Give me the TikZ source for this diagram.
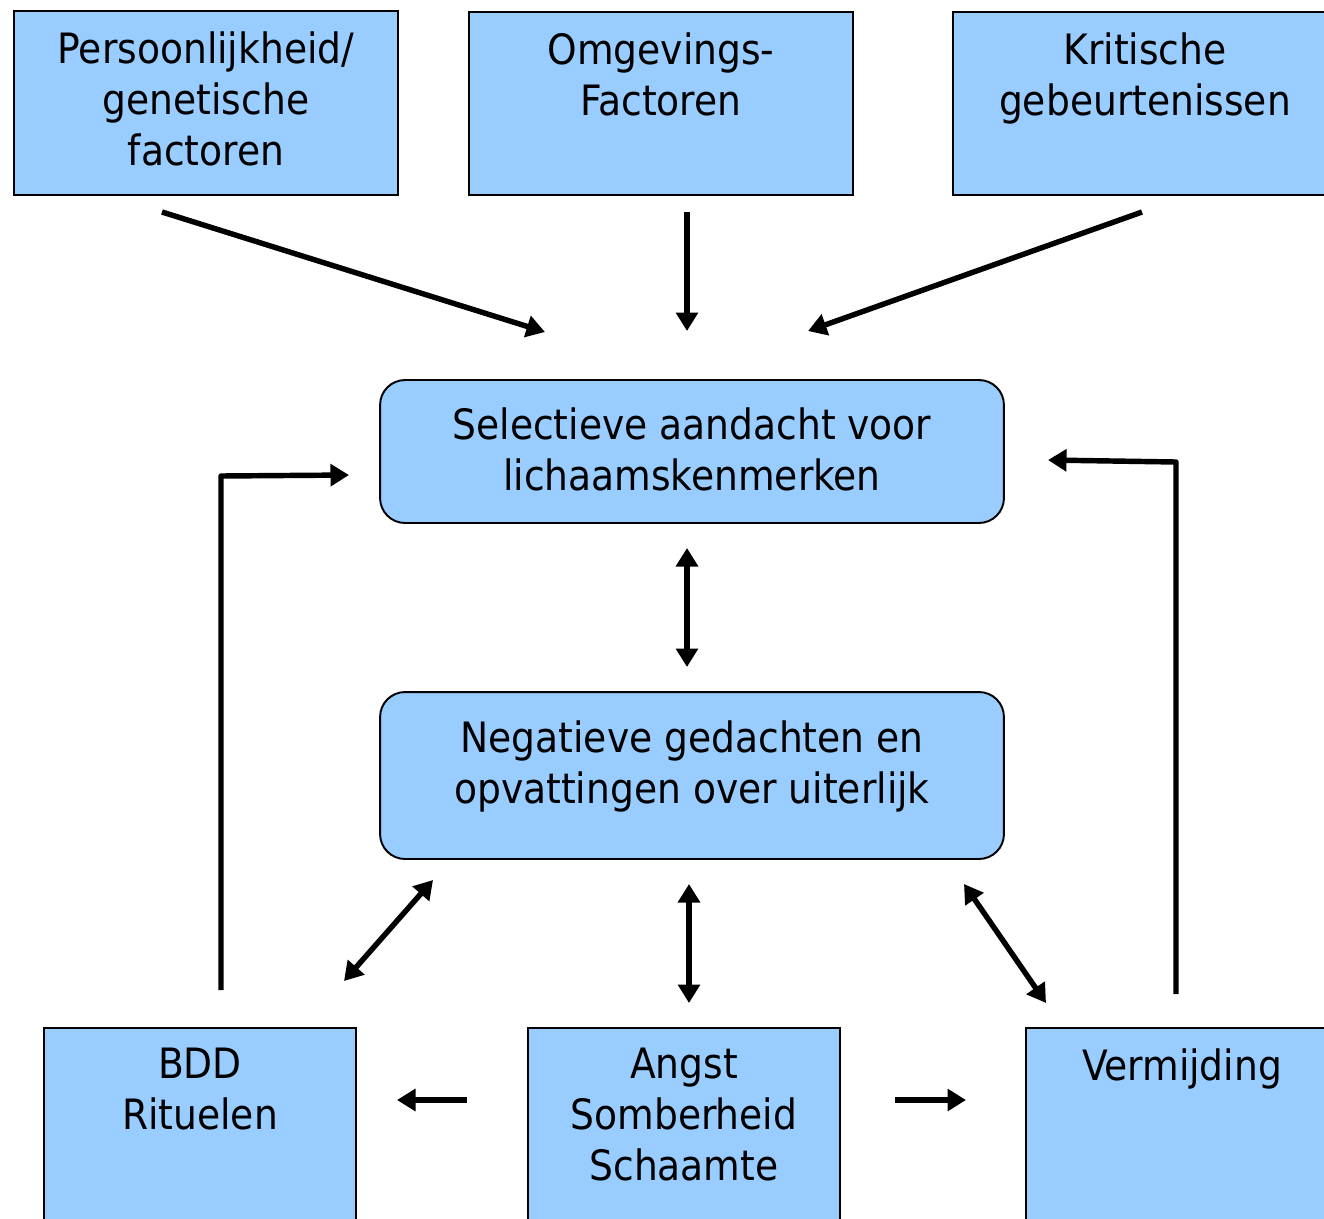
\documentclass[tikz,border=0pt]{standalone}
\usepackage{fontspec}
\setmainfont{DejaVu Sans Condensed}
\usetikzlibrary{arrows.meta}
\definecolor{boxblue}{RGB}{153,204,255}
\begin{document}
\begin{tikzpicture}[x=0.02cm,y=-0.02cm,
  box/.style={draw=black, fill=boxblue, line width=1.1pt, inner sep=0pt},
  rbox/.style={box, rounded corners=0.5cm},
  lbl/.style={anchor=north, inner sep=0pt, align=center,
    font=\fontsize{23.8}{29}\selectfont},
  arr/.style={line width=3.1pt, line join=round,
    -{Triangle[length=0.37cm,width=0.43cm]}},
  darr/.style={line width=3.1pt,
    {Triangle[length=0.37cm,width=0.43cm]}-{Triangle[length=0.37cm,width=0.43cm]}}]
\useasboundingbox (0,0) rectangle (1324,1218);
\clip (0,0) rectangle (1324,1218);

% top row: the three sources
\node[box, minimum width=7.68cm, minimum height=3.68cm] (pers) at (206,103) {};
\node[box, minimum width=7.68cm, minimum height=3.66cm] (omg) at (661,103.5) {};
\node[box, minimum width=7.74cm, minimum height=3.66cm] (krit) at (1146.5,103.5) {};
\node[lbl] (tpers) at (206,31) {Persoonlijkheid/\\genetische\\factoren};
\node[lbl] (tomg) at (661,32) {Omgevings-\\Factoren};
\node[lbl] (tkrit) at (1145,32) {Kritische\\gebeurtenissen};

% central chain
\node[rbox, minimum width=12.48cm, minimum height=2.86cm] (sel) at (692,451.5) {};
\node[lbl] (tsel) at (692,407) {Selectieve aandacht voor\\lichaamskenmerken};
\node[rbox, minimum width=12.48cm, minimum height=3.34cm] (neg) at (692,775.5) {};
\node[lbl] (tneg) at (692,720) {Negatieve gedachten en\\opvattingen over uiterlijk};

% bottom row
\node[box, minimum width=6.24cm, minimum height=4.24cm] (bdd) at (200,1134) {};
\node[box, minimum width=6.24cm, minimum height=4.24cm] (ang) at (684,1134) {};
\node[box, minimum width=6.28cm, minimum height=4.24cm] (ver) at (1183,1134) {};
\node[lbl] (tbdd) at (200,1048) {BDD\\Rituelen};
\node[lbl] (tang) at (684,1048) {Angst\\Somberheid\\Schaamte};
\node[lbl] (tver) at (1182,1048) {Vermijding};

% connector end points
\coordinate (a1s) at (162,212);  \coordinate (a1e) at (545,332);
\coordinate (a2s) at (687,212);  \coordinate (a2e) at (687,331);
\coordinate (a3s) at (1142,212); \coordinate (a3e) at (808,331);
\coordinate (d1s) at (687,548);  \coordinate (d1e) at (687,667);
\coordinate (d2s) at (433,880);  \coordinate (d2e) at (344,981);
\coordinate (d3s) at (689,884);  \coordinate (d3e) at (689,1003);
\coordinate (d4s) at (964,884);  \coordinate (d4e) at (1046,1003);
\coordinate (h1s) at (467,1100); \coordinate (h1e) at (397,1100);
\coordinate (h2s) at (895,1100); \coordinate (h2e) at (966,1100);
\coordinate (f1s) at (221,990);  \coordinate (f1e) at (349,475);
\coordinate (f2s) at (1176,994); \coordinate (f2e) at (1048,460);

\draw[arr] (a1s) -- (a1e);
\draw[arr] (a2s) -- (a2e);
\draw[arr] (a3s) -- (a3e);
\draw[darr] (d1s) -- (d1e);
\draw[darr] (d2s) -- (d2e);
\draw[darr] (d3s) -- (d3e);
\draw[darr] (d4s) -- (d4e);
\draw[arr] (h1s) -- (h1e);
\draw[arr] (h2s) -- (h2e);
\draw[arr] (f1s) -- (221,476) -- (f1e);
\draw[arr] (f2s) -- (1176,462) -- (f2e);
\end{tikzpicture}
\end{document}
